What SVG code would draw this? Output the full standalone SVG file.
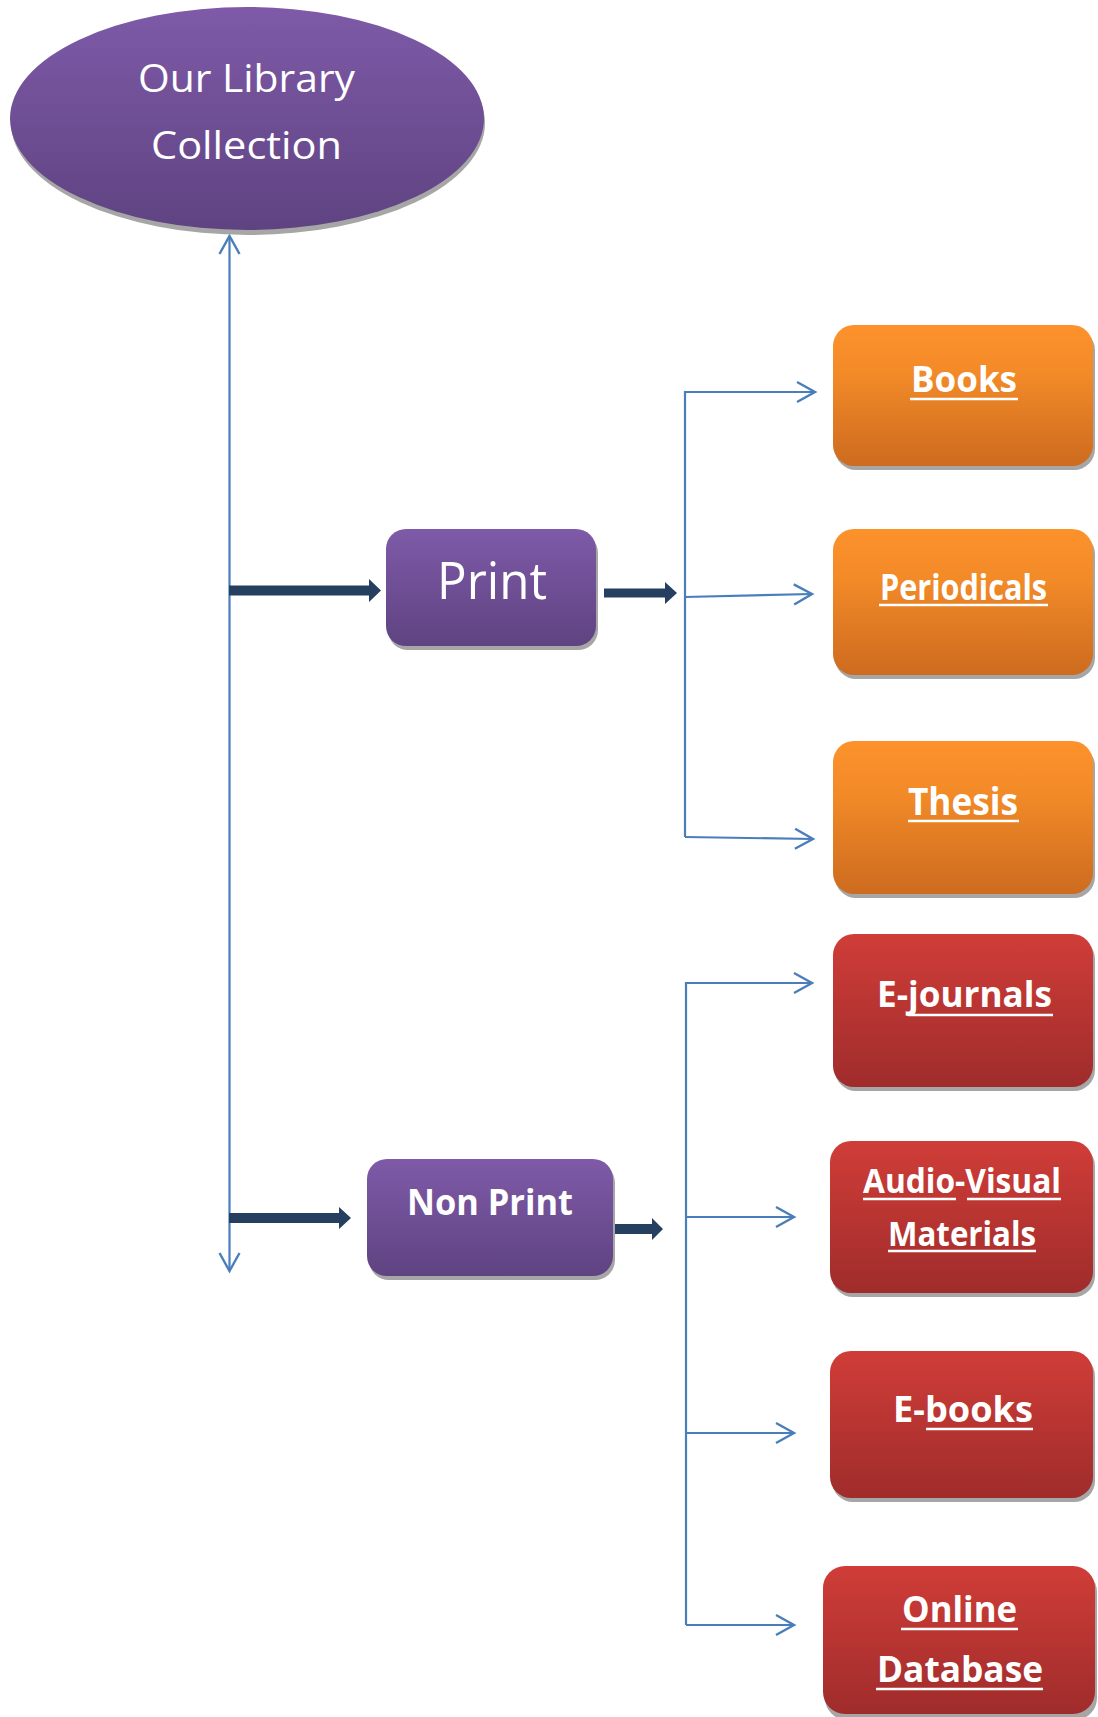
<svg xmlns="http://www.w3.org/2000/svg" width="1098" height="1717" viewBox="0 0 1098 1717">
<style>
.lbl{font-family:"Open Sans","Liberation Sans",sans-serif;fill:#fff;text-anchor:middle}
.b{font-weight:bold}
.ul{stroke:#fff;stroke-width:2.6}
.conn{stroke:#4a7ebb;stroke-width:2.2;fill:none}
.thick{fill:#243f60}
.shadow{fill:#a6a6a6}
</style>
<defs>
<linearGradient id="gp" x1="0" y1="0" x2="0" y2="1"><stop offset="0" stop-color="#7e5aa8"/><stop offset="1" stop-color="#5f4381"/></linearGradient>
<linearGradient id="go" x1="0" y1="0" x2="0" y2="1"><stop offset="0" stop-color="#fd922c"/><stop offset="0.35" stop-color="#f28a28"/><stop offset="1" stop-color="#cd6b1f"/></linearGradient>
<linearGradient id="gr" x1="0" y1="0" x2="0" y2="1"><stop offset="0" stop-color="#d03d38"/><stop offset="1" stop-color="#9f2c2b"/></linearGradient>
<marker id="ah" viewBox="-20 -12 24 24" refX="0" refY="0" markerWidth="24" markerHeight="24" markerUnits="userSpaceOnUse" orient="auto-start-reverse" overflow="visible">
<path d="M-18,-10 L0,0 L-18,10" fill="none" stroke="#4a7ebb" stroke-width="2.4"/>
</marker>
</defs>

<g id="connectors">
<line class="conn" x1="229.5" y1="236" x2="229.5" y2="1271" marker-start="url(#ah)" marker-end="url(#ah)"/>
<polygon class="thick" points="229,585.5 369,585.5 369,579 381,590.5 369,602 369,595.5 229,595.5"/>
<polygon class="thick" points="604,588.5 665,588.5 665,582 677,593 665,604 665,597.5 604,597.5"/>
<polygon class="thick" points="229,1213 339,1213 339,1207 351,1218 339,1229 339,1223 229,1223"/>
<polygon class="thick" points="613,1224 652,1224 652,1218 663,1229 652,1240 652,1234 613,1234"/>
<polyline class="conn" points="685,837 685,392 815,392" marker-end="url(#ah)"/>
<line class="conn" x1="685" y1="597" x2="812" y2="594" marker-end="url(#ah)"/>
<line class="conn" x1="685" y1="837" x2="813" y2="839" marker-end="url(#ah)"/>
<polyline class="conn" points="686,1625 686,983 812,983" marker-end="url(#ah)"/>
<line class="conn" x1="686" y1="1217" x2="794" y2="1217" marker-end="url(#ah)"/>
<line class="conn" x1="686" y1="1433" x2="794" y2="1433" marker-end="url(#ah)"/>
<line class="conn" x1="686" y1="1625" x2="794" y2="1625" marker-end="url(#ah)"/>
</g>

<g id="root">
<ellipse class="shadow" cx="248" cy="123" rx="237" ry="112"/>
<ellipse cx="247" cy="118.5" rx="237" ry="111.5" fill="url(#gp)"/>
<text class="lbl" x="246.5" y="92" font-size="39" textLength="217" lengthAdjust="spacingAndGlyphs">Our Library</text>
<text class="lbl" x="246.5" y="159" font-size="39" textLength="191" lengthAdjust="spacingAndGlyphs">Collection</text>
</g>

<g id="print">
<rect class="shadow" x="388" y="533" width="210" height="117" rx="20"/>
<rect x="386" y="529" width="210" height="117" rx="20" fill="url(#gp)"/>
<text class="lbl" x="492" y="599" font-size="52" textLength="110" lengthAdjust="spacingAndGlyphs">Print</text>
</g>

<g id="nonprint">
<rect class="shadow" x="369" y="1163" width="246" height="117" rx="20"/>
<rect x="367" y="1159" width="246" height="117" rx="20" fill="url(#gp)"/>
<text class="lbl b" x="490" y="1215" font-size="36" textLength="166" lengthAdjust="spacingAndGlyphs">Non Print</text>
</g>

<g id="books">
<rect class="shadow" x="835" y="329" width="260" height="141" rx="21"/>
<rect x="833" y="325" width="260" height="141" rx="21" fill="url(#go)"/>
<text class="lbl b" x="964" y="392" font-size="36" textLength="106" lengthAdjust="spacingAndGlyphs">Books</text>
<line class="ul" x1="910" y1="399" x2="1018" y2="399"/>
</g>

<g id="periodicals">
<rect class="shadow" x="835" y="533" width="260" height="146" rx="21"/>
<rect x="833" y="529" width="260" height="146" rx="21" fill="url(#go)"/>
<text class="lbl b" x="963.5" y="600" font-size="35" textLength="167" lengthAdjust="spacingAndGlyphs">Periodicals</text>
<line class="ul" x1="879" y1="605" x2="1048" y2="605"/>
</g>

<g id="thesis">
<rect class="shadow" x="835" y="745" width="260" height="153" rx="21"/>
<rect x="833" y="741" width="260" height="153" rx="21" fill="url(#go)"/>
<text class="lbl b" x="963" y="815" font-size="37" textLength="110" lengthAdjust="spacingAndGlyphs">Thesis</text>
<line class="ul" x1="908" y1="821" x2="1019" y2="821"/>
</g>

<g id="ejournals">
<rect class="shadow" x="835" y="938" width="260" height="153" rx="21"/>
<rect x="833" y="934" width="260" height="153" rx="21" fill="url(#gr)"/>
<text class="lbl b" x="964.5" y="1007" font-size="36" textLength="175" lengthAdjust="spacingAndGlyphs">E-journals</text>
<line class="ul" x1="908" y1="1015" x2="1053" y2="1015"/>
</g>

<g id="audiovisual">
<rect class="shadow" x="832" y="1145" width="263" height="152" rx="21"/>
<rect x="830" y="1141" width="263" height="152" rx="21" fill="url(#gr)"/>
<text class="lbl b" x="962" y="1193" font-size="34" textLength="198" lengthAdjust="spacingAndGlyphs">Audio-Visual</text>
<line class="ul" x1="863" y1="1199" x2="956" y2="1199"/>
<line class="ul" x1="967" y1="1199" x2="1061" y2="1199"/>
<text class="lbl b" x="962" y="1246" font-size="34" textLength="148" lengthAdjust="spacingAndGlyphs">Materials</text>
<line class="ul" x1="888" y1="1251" x2="1036" y2="1251"/>
</g>

<g id="ebooks">
<rect class="shadow" x="832" y="1355" width="263" height="147" rx="21"/>
<rect x="830" y="1351" width="263" height="147" rx="21" fill="url(#gr)"/>
<text class="lbl b" x="963" y="1422" font-size="36" textLength="140" lengthAdjust="spacingAndGlyphs">E-books</text>
<line class="ul" x1="926" y1="1429" x2="1033" y2="1429"/>
</g>

<g id="onlinedb">
<rect class="shadow" x="825" y="1570" width="272" height="150" rx="22"/>
<rect x="823" y="1566" width="272" height="148" rx="22" fill="url(#gr)"/>
<text class="lbl b" x="959.5" y="1622" font-size="36" textLength="115" lengthAdjust="spacingAndGlyphs">Online</text>
<line class="ul" x1="901" y1="1629" x2="1018" y2="1629"/>
<text class="lbl b" x="960" y="1682" font-size="36" textLength="166" lengthAdjust="spacingAndGlyphs">Database</text>
<line class="ul" x1="876" y1="1689" x2="1043" y2="1689"/>
</g>
</svg>
